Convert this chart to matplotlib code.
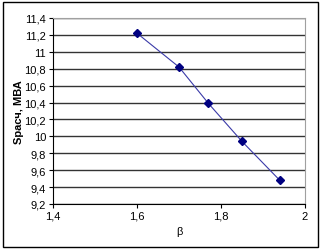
import matplotlib
matplotlib.use('Agg')
import matplotlib.pyplot as plt
from matplotlib.patches import Rectangle

beta = [1.60, 1.70, 1.77, 1.85, 1.94]
s_calc = [11.22, 10.82, 10.39, 9.94, 9.48]
x_ticks = [1.4, 1.6, 1.8, 2.0]
y_ticks = [9.2, 9.4, 9.6, 9.8, 10.0, 10.2, 10.4, 10.6, 10.8, 11.0, 11.2, 11.4]

plt.rcParams['font.family'] = ['Liberation Sans', 'DejaVu Sans']

fig = plt.figure(figsize=(3.22, 2.51), dpi=100)
fig.patches.append(Rectangle((3 / 322, 3 / 251), 315 / 322, 245 / 251,
                             transform=fig.transFigure, fill=False,
                             edgecolor='black', linewidth=1))
ax = fig.add_axes([53 / 322, 46 / 251, 252 / 322, 186 / 251])

ax.plot(beta, s_calc, color='#3a3aa8', linewidth=0.8, marker='D',
        markersize=4.5, markerfacecolor='#000080', markeredgecolor='#000080')

ax.set_xlim(1.4, 2.0)
ax.set_ylim(9.2, 11.4)
ax.set_xticks(x_ticks)
ax.set_yticks(y_ticks)
fmt = lambda v: ('%g' % v).replace('.', ',')
ax.set_xticklabels([fmt(v) for v in x_ticks])
ax.set_yticklabels([fmt(v) for v in y_ticks])
ax.tick_params(labelsize=8, length=3, width=0.8, pad=2)

ax.yaxis.grid(True, color='#333333', linewidth=1)
ax.set_axisbelow(True)
for side in ['top', 'right']:
    ax.spines[side].set_color('#a0a0a0')
for side in ['left', 'bottom']:
    ax.spines[side].set_color('black')

ax.set_xlabel('β', fontsize=8, labelpad=4)
ax.set_ylabel('Sрасч, МВА', fontsize=8, fontweight='bold')
ax.yaxis.set_label_coords(-0.115, 0.5)

fig.savefig('out.png', dpi=100)
